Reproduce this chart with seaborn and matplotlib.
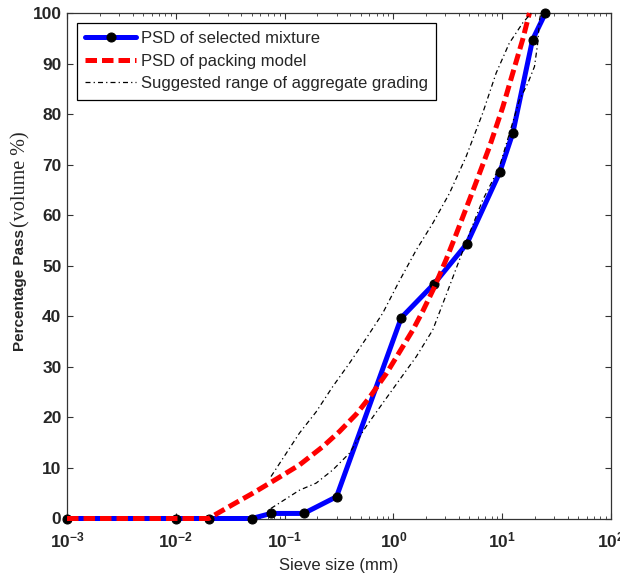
import numpy as np
import pandas as pd
import seaborn as sns
import matplotlib
matplotlib.use("Agg")
import matplotlib.pyplot as plt
from matplotlib.ticker import LogLocator, NullFormatter

# Particle size distribution of the selected mixture (sieve analysis)
mix_size = [0.001, 0.01, 0.02, 0.05, 0.075, 0.15, 0.3, 1.18, 2.36, 4.75, 9.5, 12.5, 19, 25]
mix_pass = [0, 0, 0, 0, 1.0, 1.0, 4.3, 39.7, 46.4, 54.4, 68.5, 76.2, 94.7, 100]

# Target curve of the packing model
model_size = [0.001, 0.02, 0.033, 0.051, 0.084, 0.137, 0.224, 0.319, 0.454, 0.601,
              0.857, 1.135, 1.51, 1.86, 2.36, 3.05, 3.77, 5.55, 7.63, 10.1, 12.5,
              15.4, 17.8]
model_pass = [0, 0, 2.7, 5.0, 7.8, 10.6, 14.2, 17.2, 20.6, 23.9,
              28.6, 32.9, 37.3, 41.0, 45.6, 51.2, 56.2, 65.6, 73.5, 81.3, 88.1,
              94.7, 100]

# Suggested grading envelope: upper and lower limits
upper_size = [0.075, 0.137, 0.195, 0.277, 0.394, 0.561, 0.797, 1.135, 1.62, 2.30,
              3.27, 4.66, 6.62, 8.79, 11.6, 15.4, 18.5]
upper_pass = [8.3, 16.9, 21.1, 26.1, 30.7, 35.6, 40.6, 47.0, 53.1, 58.4,
              64.3, 71.6, 80.2, 88.1, 94.0, 98.0, 100]
lower_size = [0.075, 0.137, 0.195, 0.277, 0.394, 0.561, 0.797, 1.135, 1.62, 2.30,
              3.27, 5.0, 6.62, 9.42, 14.4, 17.2, 19.8, 21.2, 22.0, 22.7]
lower_pass = [2.0, 5.6, 7.0, 9.6, 12.9, 18.2, 22.8, 27.4, 32.0, 37.3,
              45.9, 56.4, 63.0, 69.5, 82.8, 86.1, 89.4, 94.0, 98.6, 100]

x_ticks = [1e-3, 1e-2, 1e-1, 1e0, 1e1, 1e2]
y_ticks = list(range(0, 101, 10))

sns.set_theme(style="ticks")
plt.rcParams.update({
    "font.family": ["Liberation Sans", "DejaVu Sans"],
    "xtick.direction": "in",
    "ytick.direction": "in",
    "xtick.top": True,
    "ytick.right": True,
    "axes.edgecolor": "#333333",
    "axes.linewidth": 0.9,
    "mathtext.default": "regular",
})

fig = plt.figure(figsize=(6.2, 5.73), dpi=100)
W, H = 620, 573
ax = fig.add_axes([67 / W, 1 - 518.5 / H, (611 - 67) / W, (518.5 - 13) / H])

mix = pd.DataFrame({"size": mix_size, "pass": mix_pass})
model = pd.DataFrame({"size": model_size, "pass": model_pass})
upper = pd.DataFrame({"size": upper_size, "pass": upper_pass})
lower = pd.DataFrame({"size": lower_size, "pass": lower_pass})

sns.lineplot(data=mix, x="size", y="pass", ax=ax, sort=False, estimator=None,
             color="#0000ff", lw=3.6, marker="o", markersize=6.5,
             markerfacecolor="black", markeredgecolor="black",
             label="PSD of selected mixture", zorder=3, clip_on=False)
sns.lineplot(data=model, x="size", y="pass", ax=ax, sort=False, estimator=None,
             color="#ff0000", lw=3.6, label="PSD of packing model", zorder=4,
             clip_on=False)
ax.lines[-1].set_dashes((2.3, 1.0))
sns.lineplot(data=upper, x="size", y="pass", ax=ax, sort=False, estimator=None,
             color="black", lw=0.9, label="Suggested range of aggregate grading",
             zorder=5, clip_on=False)
ax.lines[-1].set_dashes((4, 2.5, 1, 2.5))
sns.lineplot(data=lower, x="size", y="pass", ax=ax, sort=False, estimator=None,
             color="black", lw=0.9, zorder=5, clip_on=False)
ax.lines[-1].set_dashes((4, 2.5, 1, 2.5))

ax.set_xscale("log")
ax.set_xlim(1e-3, 1e2)
ax.set_ylim(0, 100)
ax.set_xticks(x_ticks)
ax.xaxis.set_minor_locator(LogLocator(base=10, subs=np.arange(2, 10), numticks=20))
ax.xaxis.set_minor_formatter(NullFormatter())
ax.set_yticks(y_ticks)
ax.tick_params(axis="both", which="major", length=4.5, width=0.8, color="#333333",
               labelsize=12.5)
ax.tick_params(axis="y", which="major", pad=4)
ax.tick_params(axis="x", which="major", pad=9)
ax.tick_params(axis="x", which="minor", length=2.5, width=0.6, color="#333333",
               top=True)
for lab in ax.get_xticklabels() + ax.get_yticklabels():
    lab.set_fontweight("bold")

ax.set_xlabel("Sieve size (mm)", fontsize=12, labelpad=5)
ax.set_ylabel("")

# y-axis title in two fonts
fig.canvas.draw()
renderer = fig.canvas.get_renderer()
t1 = fig.text(20 / W, 1 - 351 / H, "Percentage Pass", rotation=90, ha="center",
              va="bottom", fontsize=11, fontweight="bold",
              family=["Liberation Sans", "DejaVu Sans"])
bb = t1.get_window_extent(renderer=renderer)
fig.text(21 / W, (bb.y1 + 2) / H, "(volume %)", rotation=90, ha="center",
         va="bottom", fontsize=14.5, family=["Liberation Serif", "DejaVu Serif"])

leg = ax.legend(loc="upper left", bbox_to_anchor=(10 / 544, 1 - 10 / 505.5),
                borderaxespad=0, fontsize=12, frameon=True, fancybox=False,
                framealpha=1, edgecolor="black", handlelength=3.05,
                handletextpad=0.3, labelspacing=0.45, borderpad=0.5)
leg.get_frame().set_linewidth(0.9)

fig.savefig("out.png", dpi=100)
